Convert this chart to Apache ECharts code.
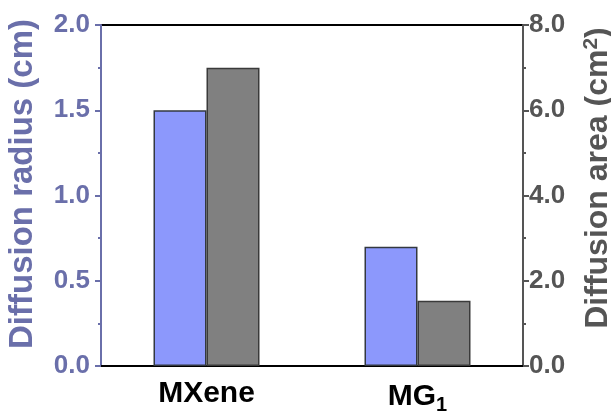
<!DOCTYPE html>
<html><head><meta charset="utf-8">
<script src="https://cdn.jsdelivr.net/npm/echarts@6/dist/echarts.min.js"></script>
<style>html,body{margin:0;padding:0;background:#fff}#c{width:611px;height:412px}</style>
</head><body><div id="c"></div>
<script>
const categories = ['MXene', 'MG1'];
const radiusValues = [1.5, 0.7];
const areaValues = [7.0, 1.53];
const leftTicks = [0, 0.5, 1.0, 1.5, 2.0];
const rightTicks = [0, 2, 4, 6, 8];

const blueAxis = '#6A6FAA';
const grayAxis = '#555555';
const font = 'Liberation Sans, Arial, sans-serif';

const chart = echarts.init(document.getElementById('c'));
chart.setOption({
  animation: false,
  grid: { left: 101, right: 88, top: 25, bottom: 46, outerBoundsMode: 'none', containLabel: false,
          show: true, borderColor: '#000', borderWidth: 2, backgroundColor: 'transparent' },
  xAxis: [{
    type: 'category', data: categories, position: 'bottom',
    axisLine: { lineStyle: { color: '#000', width: 2 } },
    axisTick: { inside: false, alignWithLabel: true, length: 6, lineStyle: { color: '#000', width: 2 } },
    axisLabel: {
      interval: 0, hideOverlap: false,
      margin: 13, fontFamily: font, fontWeight: 'bold', fontSize: 30, color: '#000',
      formatter: v => v === 'MG1' ? '{n|MG}{s|1}' : '{n|' + v + '}',
      rich: { n: { fontFamily: font, fontWeight: 'bold', fontSize: 30, color: '#000' },
              s: { fontFamily: font, fontWeight: 'bold', fontSize: 20, color: '#000', verticalAlign: 'bottom', padding: [16, 0, 0, 0] } }
    }
  }, {
    type: 'category', data: categories, position: 'bottom',
    axisLine: { show: false },
    axisTick: { inside: false, interval: 0, length: 3, lineStyle: { color: '#000', width: 2 } },
    axisLabel: { show: false }
  }],
  yAxis: [{
    type: 'value', min: leftTicks[0], max: leftTicks[leftTicks.length - 1], interval: 0.5,
    position: 'left',
    name: 'Diffusion radius (cm)', nameLocation: 'middle', nameGap: 62, nameRotate: 90,
    nameTextStyle: { fontFamily: font, fontWeight: 'bold', fontSize: 33, color: blueAxis, padding: [0, 0, 0, 23] },
    axisLine: { show: true, lineStyle: { color: blueAxis, width: 2 } },
    axisTick: { show: true, inside: false, length: 6, lineStyle: { color: blueAxis, width: 2 } },
    minorTick: { show: true, splitNumber: 2, length: 3, lineStyle: { color: blueAxis, width: 2 } },
    splitLine: { show: false },
    axisLabel: { margin: 11, fontFamily: font, fontWeight: 'bold', fontSize: 26, color: blueAxis,
      formatter: v => v.toFixed(1) }
  }, {
    type: 'value', min: rightTicks[0], max: rightTicks[rightTicks.length - 1], interval: 2,
    position: 'right',
    name: '{t|Diffusion area (cm}{s|2}{t|)}', nameLocation: 'middle', nameGap: 58, nameRotate: 90,
    nameTextStyle: {
      fontFamily: font, fontWeight: 'bold', fontSize: 32, color: grayAxis, padding: [0, 0, 0, 35],
      rich: { t: { fontFamily: font, fontWeight: 'bold', fontSize: 32, color: grayAxis },
              s: { fontFamily: font, fontWeight: 'bold', fontSize: 21, color: grayAxis, verticalAlign: 'top', padding: [0, 0, 13, 0] } }
    },
    axisLine: { show: true, lineStyle: { color: grayAxis, width: 2 } },
    axisTick: { show: true, inside: false, length: 6, lineStyle: { color: grayAxis, width: 2 } },
    minorTick: { show: true, splitNumber: 2, length: 3, lineStyle: { color: grayAxis, width: 2 } },
    splitLine: { show: false },
    axisLabel: { margin: 6, fontFamily: font, fontWeight: 'bold', fontSize: 26, color: grayAxis,
      formatter: v => v.toFixed(1) }
  }],
  series: [{
    type: 'bar', name: 'radius', data: radiusValues, xAxisIndex: 0, yAxisIndex: 0,
    barWidth: 53, barGap: '0%',
    itemStyle: { color: '#8C98FC', borderColor: '#333840', borderWidth: 1.5 }
  }, {
    type: 'bar', name: 'area', data: areaValues, xAxisIndex: 0, yAxisIndex: 1,
    barWidth: 53, barGap: '0%',
    itemStyle: { color: '#808080', borderColor: '#3a3a3a', borderWidth: 1.5 }
  }]
});
</script></body></html>
